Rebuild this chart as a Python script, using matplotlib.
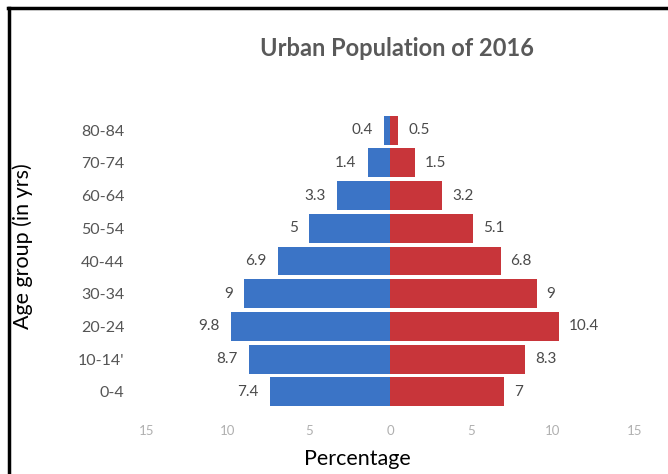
import matplotlib
matplotlib.use("Agg")
import matplotlib.pyplot as plt
from matplotlib.lines import Line2D

plt.rcParams['font.family'] = ['Lato', 'DejaVu Sans']

age_groups = ["0-4", "10-14'", "20-24", "30-34", "40-44", "50-54", "60-64", "70-74", "80-84"]
male = [7.4, 8.7, 9.8, 9, 6.9, 5, 3.3, 1.4, 0.4]
female = [7, 8.3, 10.4, 9, 6.8, 5.1, 3.2, 1.5, 0.5]
male_labels = ["7.4", "8.7", "9.8", "9", "6.9", "5", "3.3", "1.4", "0.4"]
female_labels = ["7", "8.3", "10.4", "9", "6.8", "5.1", "3.2", "1.5", "0.5"]
xticks = [-15, -10, -5, 0, 5, 10, 15]
xtick_labels = ["15", "10", "5", "0", "5", "10", "15"]

fig = plt.figure(figsize=(6.68, 4.74), dpi=100)
fig.patch.set_facecolor('white')
ax = fig.add_axes([0.1946, 0.1181, 0.7793, 0.6625])

y = list(range(len(age_groups)))
blue = '#3b74c6'
red = '#c8353a'
ax.barh(y, [-m for m in male], height=0.88, color=blue)
ax.barh(y, female, height=0.88, color=red)

for yi, v, lab in zip(y, male, male_labels):
    ax.annotate(lab, (-v, yi), xytext=(-8, 0), textcoords='offset points',
                ha='right', va='center', fontsize=11, color='#4a4a4a')
for yi, v, lab in zip(y, female, female_labels):
    ax.annotate(lab, (v, yi), xytext=(7, 0), textcoords='offset points',
                ha='left', va='center', fontsize=11, color='#4a4a4a')

ax.set_xlim(-16, 16)
ax.set_ylim(-0.8, 8.8)
ax.set_yticks(y)
ax.set_yticklabels(age_groups, fontsize=11.5, color='#555555')
ax.set_xticks(xticks)
ax.set_xticklabels(xtick_labels, fontsize=9.5, color='#b0b0b0')
ax.tick_params(axis='both', length=0)
ax.tick_params(axis='y', pad=4)
ax.tick_params(axis='x', pad=5)
for s in ax.spines.values():
    s.set_visible(False)

fig.text(357/668, 1 - 459/474, "Percentage", ha='center', va='center',
         fontsize=15.5, color='black')
fig.text(397/668, 1 - 48/474, "Urban Population of 2016", ha='center', va='center',
         fontsize=17, fontweight='bold', color='#595959')
fig.text(23/668, 1 - 246/474, "Age group (in yrs)", rotation=90, ha='center', va='center',
         fontsize=15.5, color='black')

fig.add_artist(Line2D([9/668, 9/668], [0, 1 - 8/474], transform=fig.transFigure,
                      color='black', linewidth=2.5))
fig.add_artist(Line2D([8/668, 1], [1 - 8/474, 1 - 8/474], transform=fig.transFigure,
                      color='black', linewidth=2.5))

fig.savefig("out.png", dpi=100)
